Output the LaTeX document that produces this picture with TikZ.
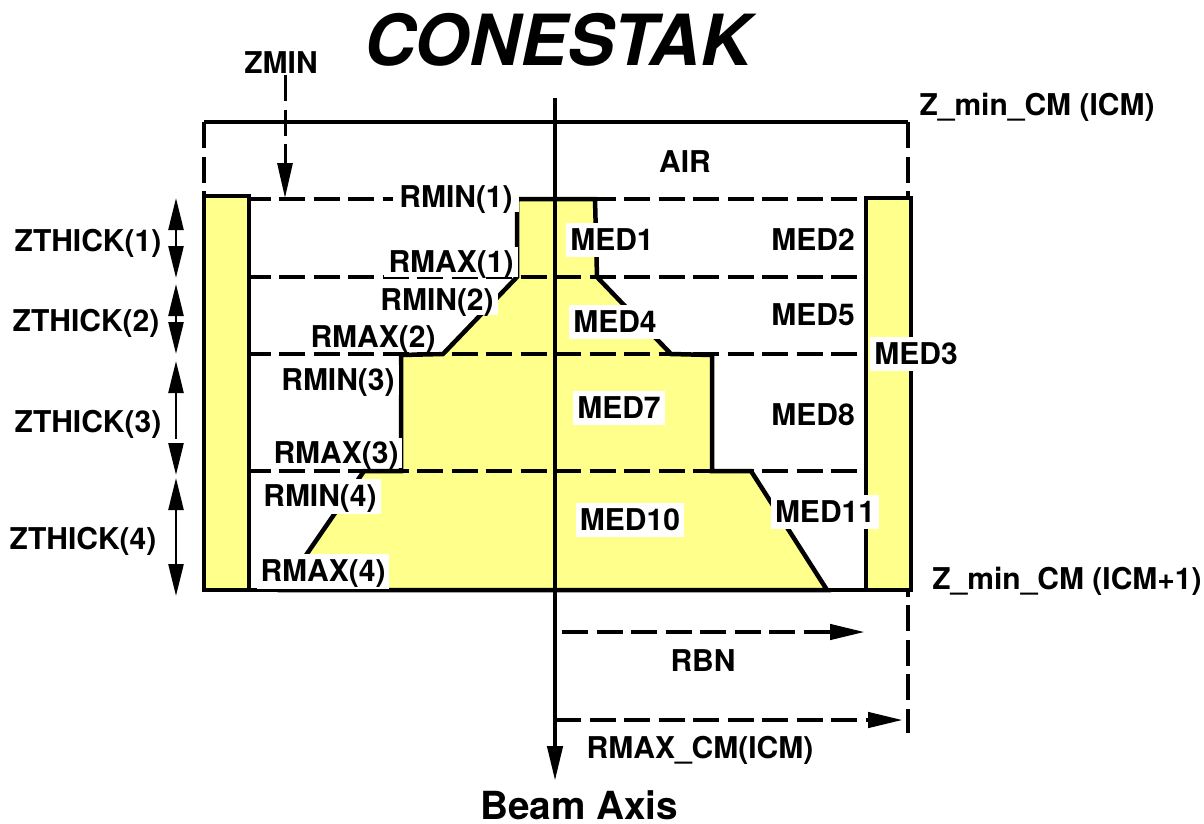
\documentclass[tikz,border=0pt]{standalone}
\usepackage{fontspec}
\setmainfont{TeX Gyre Heros}
\usetikzlibrary{arrows.meta}
\definecolor{coneyellow}{RGB}{255,255,140}
\tikzset{
    lbl/.style={font=\fontsize{30}{32}\selectfont\bfseries, fill=white, inner xsep=4pt, inner ysep=3.5pt, text height=22pt, text depth=1pt},
    medlbl/.style={lbl, inner ysep=5.5pt},
    plainlbl/.style={lbl, fill=none},
    solidline/.style={line width=4.5pt},
    dashline/.style={line width=4.5pt, dash pattern=on 26pt off 8.5pt},
    bigtip/.style={-{Triangle[length=35pt,width=15pt]}},
    thicktip/.style={{Triangle[length=32pt,width=15pt]}-{Triangle[length=32pt,width=15pt]}, line width=2.5pt}
}
\begin{document}
\begin{tikzpicture}[x=1pt, y=-1pt]
    \useasboundingbox (0, 0) rectangle (1204, 823);

    \coordinate (TL) at (204, 122);
    \coordinate (TR) at (908, 122);
    \coordinate (BL) at (204, 196);
    \coordinate (BR) at (908, 733);
    \coordinate (L1) at (249, 199);
    \coordinate (R1) at (866, 199);
    \coordinate (L2) at (249, 277);
    \coordinate (R2) at (866, 277);
    \coordinate (L3) at (249, 354);
    \coordinate (R3) at (866, 354);
    \coordinate (L4) at (249, 471);
    \coordinate (R4) at (866, 471);
    \coordinate (B1) at (204, 590);
    \coordinate (B2) at (911, 590);
    \coordinate (axtop) at (555, 98);
    \coordinate (axbot) at (555, 781);

    \path [dashline]
        (TL) edge (BL)
        (TR) edge (BR);

    % yellow parts
    \filldraw [fill=coneyellow, solidline, line join=miter]
        (517, 199) -- (595, 199) -- (597, 277) -- (671, 354) -- (712, 355) -- (712, 471)
        -- (751, 471) -- (827, 590) -- (282, 590) -- (364, 471) -- (401, 471) -- (401, 355)
        -- (443, 354) -- (517, 277) -- cycle;
    \filldraw [fill=coneyellow, solidline] (204, 196) rectangle (249, 590);
    \filldraw [fill=coneyellow, solidline] (866, 198) rectangle (911, 590);

    \path [solidline]
        (TL) edge (TR)
        (B1) edge (B2)
        (axtop) edge [bigtip] (axbot);
    \path [dashline]
        (L1) edge [dash phase=4.5pt] (R1)
        (L2) edge [dash phase=4.5pt] (R2)
        (L3) edge [dash phase=4.5pt] (R3)
        (L4) edge [dash phase=4.5pt] (R4);

    % arrows
    \coordinate (ZA) at (285, 75);
    \coordinate (ZB) at (285, 198);
    \coordinate (RA) at (562, 632);
    \coordinate (RB) at (865, 632);
    \coordinate (CA) at (555, 720);
    \coordinate (CB) at (903, 720);
    \path [line width=3pt]
        (ZA) edge [bigtip, dash pattern=on 26pt off 8.5pt] (ZB);
    \path [line width=4.5pt, dash pattern=on 26pt off 8.5pt]
        (RA) edge [bigtip] (RB)
        (CA) edge [bigtip] (CB);

    \coordinate (T1a) at (176, 198);
    \coordinate (T1b) at (176, 278);
    \coordinate (T2a) at (176, 284);
    \coordinate (T2b) at (176, 354);
    \coordinate (T3a) at (176, 361);
    \coordinate (T3b) at (176, 475);
    \coordinate (T4a) at (176, 478);
    \coordinate (T4b) at (176, 596);
    \path [thicktip]
        (T1a) edge (T1b)
        (T2a) edge (T2b)
        (T3a) edge [dash pattern=on 47pt off 10pt on 100pt off 10pt] (T3b)
        (T4a) edge [dash pattern=on 55pt off 10pt on 100pt off 10pt] (T4b);

    % labels
    \node at (558, 40) (title) {\fontsize{70.5}{74}\selectfont\bfseries\itshape CONESTAK};
    \node [plainlbl] at (281, 63) (zmin) {ZMIN};
    \node [plainlbl] at (1037, 105) (zcm) {Z\_min\_CM (ICM)};
    \node [plainlbl] at (685, 162) (air) {AIR};
    \node [lbl, inner xsep=6pt] at (456, 197) (rmin1) {RMIN(1)};
    \node [medlbl] at (612, 240) (med1) {MED1};
    \node [plainlbl] at (813, 240) (med2) {MED2};
    \node [plainlbl] at (88, 241) (zt1) {ZTHICK(1)};
    \node [lbl, inner xsep=5pt] at (451, 262) (rmax1) {RMAX(1)};
    \node [lbl] at (437, 300) (rmin2) {RMIN(2)};
    \node [plainlbl] at (86, 321) (zt2) {ZTHICK(2)};
    \node [medlbl] at (615, 322) (med4) {MED4};
    \node [plainlbl] at (813, 315) (med5) {MED5};
    \node [lbl] at (373, 337) (rmax2) {RMAX(2)};
    \node [medlbl] at (916, 354) (med3) {MED3};
    \node [lbl] at (338, 380) (rmin3) {RMIN(3)};
    \node [medlbl] at (619, 408) (med7) {MED7};
    \node [plainlbl] at (813, 415) (med8) {MED8};
    \node [plainlbl] at (88, 422) (zt3) {ZTHICK(3)};
    \node [lbl] at (336, 453) (rmax3) {RMAX(3)};
    \node [lbl, inner ysep=6pt] at (320, 496) (rmin4) {RMIN(4)};
    \node [medlbl] at (630, 520) (med10) {MED10};
    \node [medlbl] at (825, 512) (med11) {MED11};
    \node [plainlbl] at (83, 539) (zt4) {ZTHICK(4)};
    \node [lbl, inner ysep=6pt] at (323, 571) (rmax4) {RMAX(4)};
    \node [plainlbl] at (1067, 579) (zcm1) {Z\_min\_CM (ICM+1)};
    \node [plainlbl] at (703, 661) (rbn) {RBN};
    \node [plainlbl] at (700, 748) (rmaxcm) {RMAX\_CM(ICM)};
    \node [inner sep=0pt] at (579, 805) (beam) {\fontsize{38.7}{40}\selectfont\bfseries Beam Axis};
\end{tikzpicture}
\end{document}
